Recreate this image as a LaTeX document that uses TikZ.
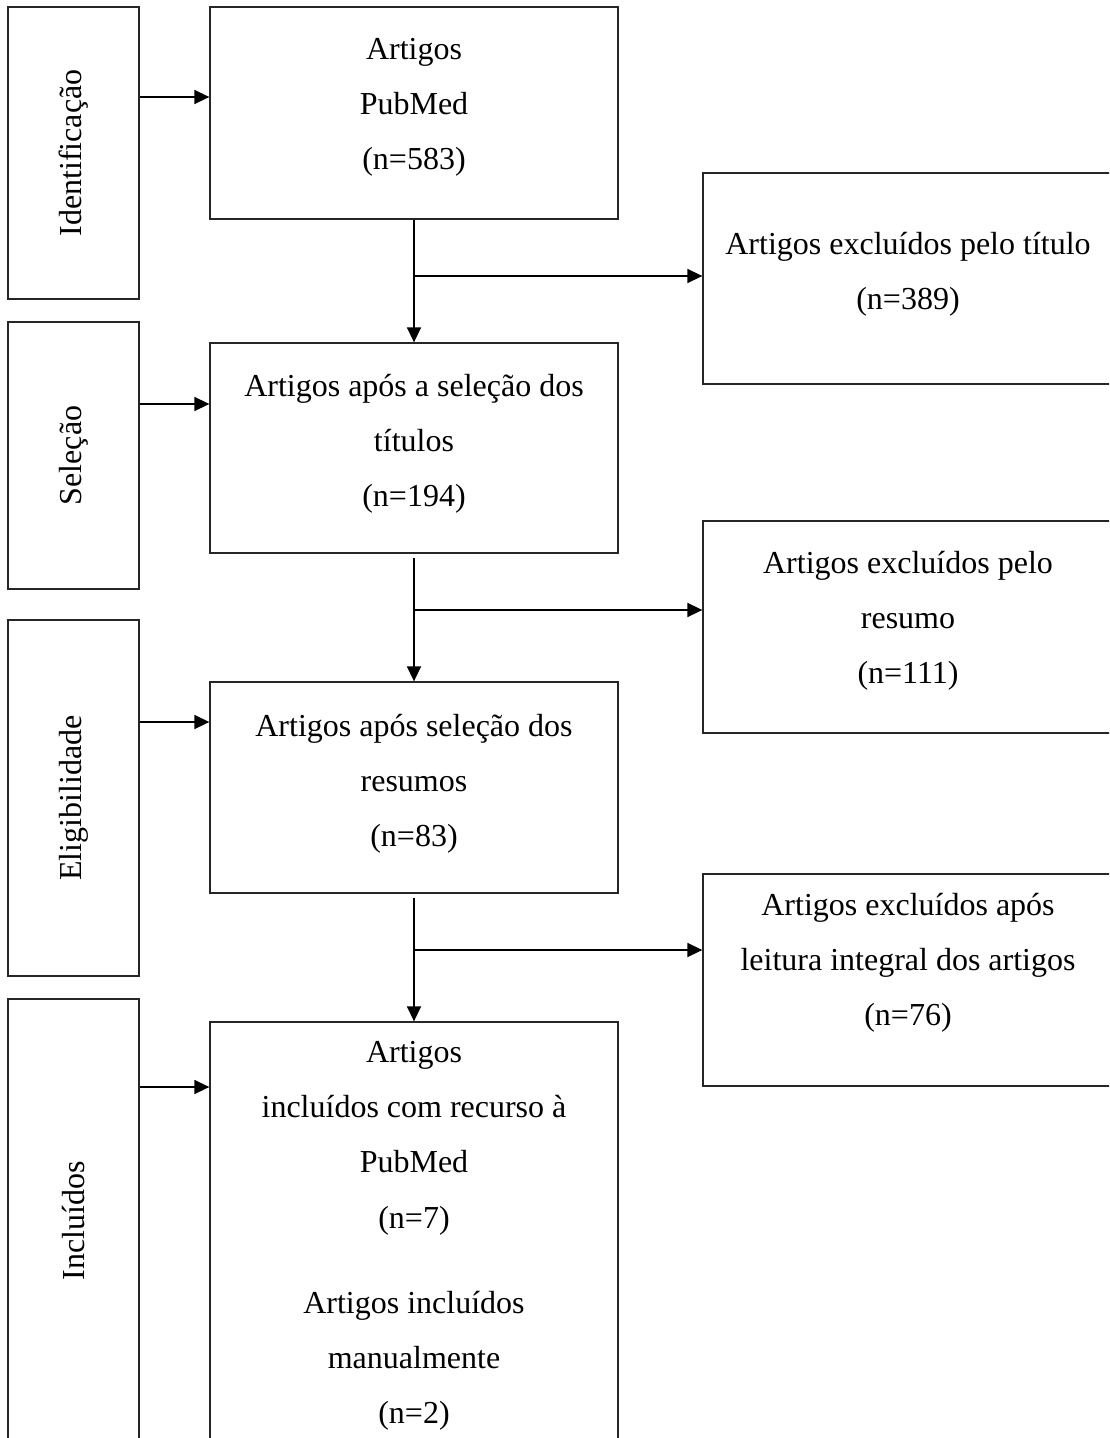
\documentclass[tikz,border=0pt]{standalone}
\usepackage{graphicx}
\usepackage{fontspec}
\setmainfont{Liberation Serif}
\usetikzlibrary{arrows.meta}
\begin{document}
\begin{tikzpicture}[x=1pt,y=-1pt,
  box/.style={draw=black!85, line width=1.3pt, inner sep=0pt, rectangle},
  arr/.style={line width=1.5pt, -{Triangle[length=15pt,width=14pt]}},
  txt/.style={align=center, inner sep=0pt, anchor=north, font=\fontsize{32}{55.2}\selectfont},
  lab/.style={font=\fontsize{32}{38}\selectfont}]
\useasboundingbox (0,0) rectangle (1109,1438);
\clip (0,0) rectangle (1109,1438);
% left stage boxes
\node[box, lab, minimum width=131, minimum height=292] (L1) at (73.5,153) {\rotatebox{90}{Identificação}};
\node[box, lab, minimum width=131, minimum height=267] (L2) at (73.5,455.5) {\rotatebox{90}{Seleção}};
\node[box, lab, minimum width=131, minimum height=356] (L3) at (73.5,798) {\rotatebox{90}{Eligibilidade}};
\node[box, lab, minimum width=131, minimum height=444] (L4) at (73.5,1221) {\rotatebox{90}{Incluídos}};
% middle boxes
\node[box, minimum width=408, minimum height=212] (M1) at (414,113) {};
\node[box, minimum width=408, minimum height=210] (M2) at (414,448) {};
\node[box, minimum width=408, minimum height=211] (M3) at (414,787.5) {};
\node[box, minimum width=408, minimum height=440] (M4) at (414,1242) {};
% right boxes
\node[box, minimum width=412, minimum height=211] (R1) at (909,278.5) {};
\node[box, minimum width=412, minimum height=212] (R2) at (909,627) {};
\node[box, minimum width=412, minimum height=212] (R3) at (909,980) {};
% texts
\node[txt] (T1) at (414,38) {Artigos\\PubMed\\(n=583)};
\node[txt] (T2) at (414,374) {Artigos após a seleção dos\\títulos\\(n=194)};
\node[txt] (T3) at (414,714) {Artigos após seleção dos\\resumos\\(n=83)};
\node[txt] (T4) at (414,1041) {Artigos\\incluídos com recurso à\\PubMed\\(n=7)\\[29.8pt]Artigos incluídos\\manualmente\\(n=2)};
\node[txt] (RT1) at (908,232) {Artigos excluídos pelo título\\(n=389)};
\node[txt] (RT2) at (908,551) {Artigos excluídos pelo\\resumo\\(n=111)};
\node[txt] (RT3) at (908,893) {Artigos excluídos após\\leitura integral dos artigos\\(n=76)};
% stage arrows
\draw[arr] (L1.east |- 0,97) -- (M1.west |- 0,97);
\draw[arr] (L2.east |- 0,404) -- (M2.west |- 0,404);
\draw[arr] (L3.east |- 0,722) -- (M3.west |- 0,722);
\draw[arr] (L4.east |- 0,1087) -- (M4.west |- 0,1087);
% vertical flow
\draw[arr] (M1.south) -- (M2.north);
\draw[arr] ([yshift=-4pt]M2.south) -- (M3.north);
\draw[arr] ([yshift=-4pt]M3.south) -- (M4.north);
% exclusions
\draw[arr] (M1.south |- 0,276) -- (R1.west |- 0,276);
\draw[arr] (M2.south |- 0,610) -- (R2.west |- 0,610);
\draw[arr] (M3.south |- 0,950) -- (R3.west |- 0,950);
\end{tikzpicture}
\end{document}
